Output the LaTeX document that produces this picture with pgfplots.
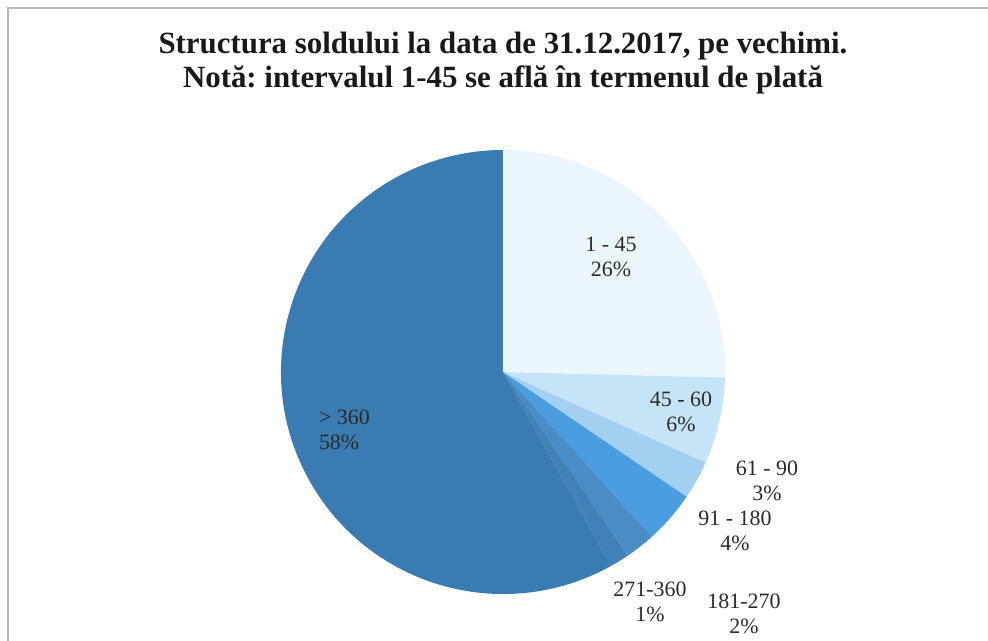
\documentclass[border=0pt]{standalone}
\usepackage{pgfplots}
\pgfplotsset{compat=1.18}
\usepackage{pgfplotstable}
\usepackage{fontspec}
\setmainfont{Liberation Serif}
\frenchspacing

\definecolor{c1}{HTML}{EAF5FC}
\definecolor{c2}{HTML}{C6E4F7}
\definecolor{c3}{HTML}{A3D0F1}
\definecolor{c4}{HTML}{4A9DDE}
\definecolor{c5}{HTML}{4A8CC6}
\definecolor{c6}{HTML}{4281B8}
\definecolor{c7}{HTML}{3A7BB1}
\definecolor{labeltext}{HTML}{2B2B2B}
\definecolor{framegray}{HTML}{B8B8C0}

% slice size (value), printed percent (pct), label centre in px (lx, ly)
\pgfplotstableread[col sep=comma]{
label,value,pct,lx,ly,col,anc,al
1 - 45,25.4,26,611,384,c1,center,center
45 - 60,6.3,6,681,229,c2,center,center
61 - 90,2.8,3,767,160,c3,center,center
91 - 180,3.8,4,735,110,c4,center,center
181-270,2.2,2,744,27,c5,center,center
271-360,1.4,1,650,39,c6,center,center
> 360,58.1,58,312,211,c7,west,left
}\agedata

\begin{document}
\begin{tikzpicture}
\useasboundingbox (0,0) rectangle (494bp,320.5bp);
\begin{axis}[
  x=0.5bp, y=0.5bp,
  xmin=0, xmax=988, ymin=0, ymax=641,
  hide axis, clip=false,
]
% slices, clockwise from 12 o'clock
\xdef\angA{90}
\pgfplotsinvokeforeach{0,...,6}{
  \pgfplotstablegetelem{#1}{value}\of\agedata \let\pieV\pgfplotsretval
  \pgfplotstablegetelem{#1}{col}\of\agedata \let\pieC\pgfplotsretval
  \pgfmathsetmacro{\angB}{\angA-3.6*\pieV}
  \edef\temp{\noexpand\fill[\pieC] (axis cs:503,269) -- ++(\angA:111bp)
    arc[start angle=\angA, end angle=\angB, radius=111bp] -- cycle;}
  \temp
  \xdef\angA{\angB}
}
% data labels
\pgfplotsinvokeforeach{0,...,6}{
  \pgfplotstablegetelem{#1}{label}\of\agedata \let\pieL\pgfplotsretval
  \pgfplotstablegetelem{#1}{pct}\of\agedata \let\pieP\pgfplotsretval
  \pgfplotstablegetelem{#1}{lx}\of\agedata \let\pieX\pgfplotsretval
  \pgfplotstablegetelem{#1}{ly}\of\agedata \let\pieY\pgfplotsretval
  \pgfplotstablegetelem{#1}{anc}\of\agedata \let\pieA\pgfplotsretval
  \pgfplotstablegetelem{#1}{al}\of\agedata \let\pieAl\pgfplotsretval
  \edef\temp{\noexpand\node[anchor=\pieA, align=\pieAl, text=labeltext,
    font=\noexpand\fontsize{11}{12.5}\noexpand\selectfont]
    at (axis cs:\pieX,\pieY) {\pieL\noexpand\\\pieP\noexpand\%};}
  \temp
}
\node[font=\bfseries\fontsize{15.5}{17}\selectfont, align=center, text=black!90]
  at (axis cs:503,578)
  {Structura soldului la data de 31.12.2017, pe vechimi.\\
   Notă: intervalul 1-45 se află în termenul de plată};
\draw[framegray, line width=0.6bp] (axis cs:8,-20) |- (axis cs:1010,633);
\end{axis}
\end{tikzpicture}
\end{document}
